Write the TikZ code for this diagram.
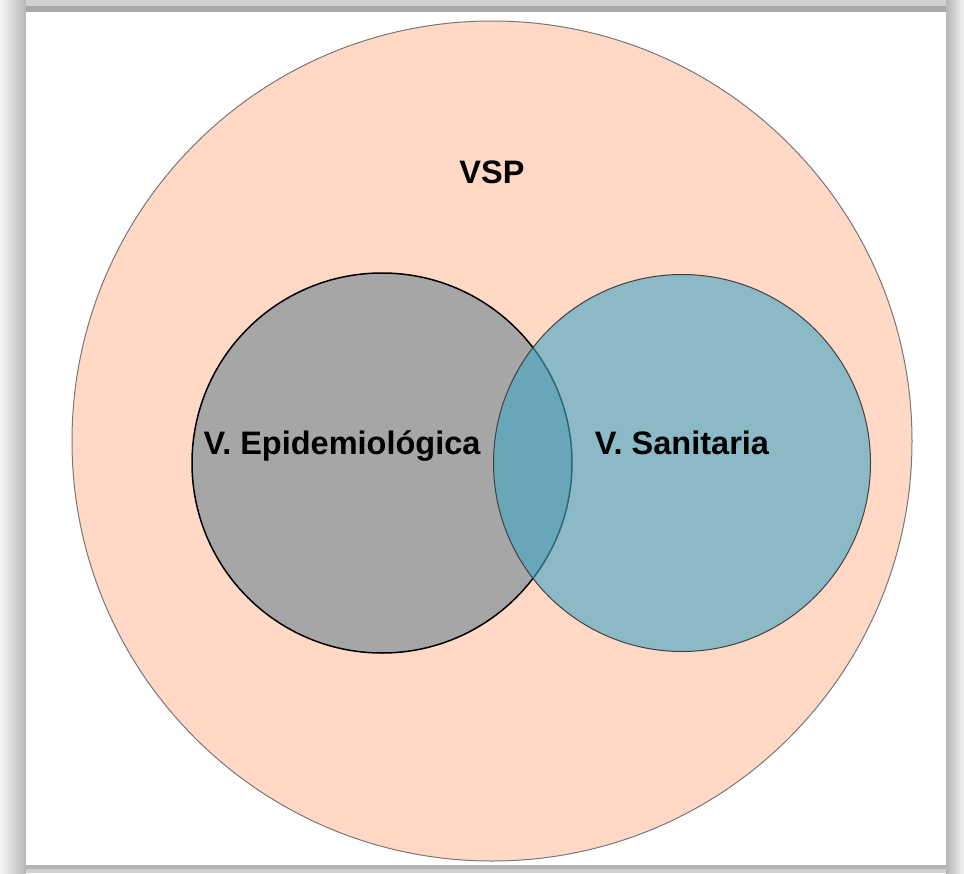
\documentclass[tikz,border=0pt]{standalone}
\usepackage{fontspec}
\setmainfont{Liberation Sans}
\definecolor{vsppink}{RGB}{255,216,198}
\definecolor{epigray}{RGB}{166,166,166}
\definecolor{sanblue}{RGB}{70,167,198}
\definecolor{rimgray}{RGB}{120,120,120}
\begin{document}
\begin{tikzpicture}[x=1pt,y=-1pt,
  lbl/.style={font=\bfseries\fontsize{32.5}{38}\selectfont, text=black, inner sep=0pt, anchor=base},
  ring/.style={circle, inner sep=0pt, outer sep=0pt}]
\useasboundingbox (0,0) rectangle (964,873);
% frame with shadow
\fill[white] (0,0) rectangle (964,873);
\shade[left color=black!3, right color=black!29] (0,0) rectangle (26,873);
\fill[black!18] (26,0) rectangle (946,6);
\fill[black!34] (26,6) rectangle (946,12);
\shade[left color=black!29, right color=black!5] (946,0) rectangle (964,873);
\fill[black!29] (26,865) rectangle (946,869);
\fill[black!18] (26,869) rectangle (946,873);
\fill[white] (26,12) rectangle (946,865);
% circles
\node[ring, minimum size=840pt, fill=vsppink, draw=rimgray, line width=1pt] (vsp) at (492,441) {};
\node[ring, minimum size=380pt, fill=epigray, draw=black, line width=1.5pt] (epi) at (382,463) {};
\node[ring, minimum size=377pt, fill=sanblue, fill opacity=0.62, draw=black!75, draw opacity=1, line width=1pt] (san) at (682,463) {};
% labels
\node[lbl] (vsplbl) at (492,183) {VSP};
\node[lbl] (epilbl) at (342,454) {V. Epidemiológica};
\node[lbl] (sanlbl) at (682,454) {V. Sanitaria};
\end{tikzpicture}
\end{document}
